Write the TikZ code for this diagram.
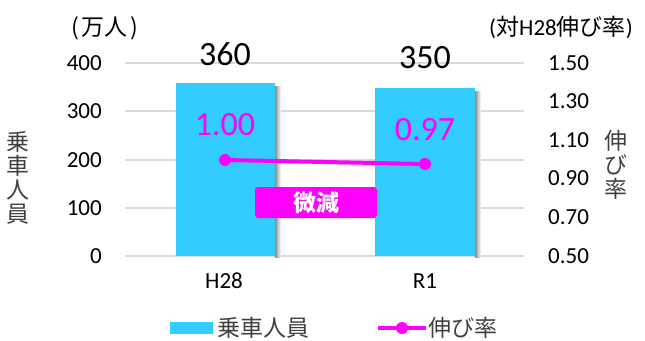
\documentclass[tikz,border=0pt]{standalone}
\usepackage{fontspec}
\setmainfont{Carlito}
\newfontfamily\jpfont{Noto Sans CJK JP}
\usetikzlibrary{positioning}
\definecolor{barblue}{RGB}{51,204,255}
\definecolor{gridgray}{RGB}{217,217,217}
\definecolor{labelgray}{RGB}{64,64,64}
\definecolor{ratepink}{RGB}{255,0,255}

\begin{document}
\begin{tikzpicture}[x=1pt,y=-1pt,
  tick/.style={font=\fontsize{23}{23}\selectfont,text=black,inner sep=0pt},
  jplabel/.style={font=\fontsize{23}{24}\selectfont\jpfont,text=labelgray,inner sep=0pt},
  bigval/.style={font=\fontsize{34}{34}\selectfont,inner sep=0pt,anchor=base},
  ratedot/.style={circle,fill=ratepink,inner sep=0pt,minimum size=12pt}]
\useasboundingbox (0,0) rectangle (645,340);

% grid
\draw[gridgray,line width=1.5pt] (125,63) -- (524,63);
\draw[gridgray,line width=1.5pt] (125,111) -- (524,111);
\draw[gridgray,line width=1.5pt] (125,160) -- (524,160);
\draw[gridgray,line width=1.5pt] (125,208) -- (524,208);
\draw[gridgray,line width=1.5pt] (125,256) -- (524,256);

% left axis
\node[tick,anchor=base east] (l400) at (102,70) {400};
\node[tick,anchor=base east] (l300) at (102,118) {300};
\node[tick,anchor=base east] (l200) at (102,167) {200};
\node[tick,anchor=base east] (l100) at (102,215) {100};
\node[tick,anchor=base east] (l0) at (102,263) {0};
\node[jplabel,text=black] (unit) at (105,28) {(\hspace{3pt}万人\hspace{3pt})};
\node[jplabel,align=center] (ylabel) at (18,178) {乗\\車\\人\\員};

% right axis
\node[tick,anchor=base west] (r150) at (548,70) {1.50};
\node[tick,anchor=base west] (r130) at (548,108.6) {1.30};
\node[tick,anchor=base west] (r110) at (548,147.2) {1.10};
\node[tick,anchor=base west] (r090) at (548,185.8) {0.90};
\node[tick,anchor=base west] (r070) at (548,224.4) {0.70};
\node[tick,anchor=base west] (r050) at (548,263) {0.50};
\node[tick] (rateunit) at (561,27) {({\jpfont 対}H28{\jpfont 伸び率})};
\node[jplabel,align=center] (y2label) at (616,164.5) {伸\\び\\率};

% bars
\shade[left color=black!45,right color=white] (275,86) rectangle (281,257);
\shade[left color=black!45,right color=white] (475,91) rectangle (481,257);
\fill[barblue] (176,83) rectangle (275,256);
\fill[barblue] (375,88) rectangle (475,256);
\node[bigval] (v1) at (225,65) {360};
\node[bigval] (v2) at (425,68) {350};

% rate line
\node[bigval,text=ratepink] (t1) at (225,135) {1.00};
\node[bigval,text=ratepink] (t2) at (425,140) {0.97};
\node[ratedot] (p1) at (225,160) {};
\node[ratedot] (p2) at (425,164) {};
\draw[ratepink,line width=4pt] (p1) -- (p2);

\node[fill=ratepink,rounded corners=3pt,minimum width=122pt,minimum height=31pt,inner sep=0pt,
  text=white,font=\fontsize{23}{23}\selectfont\jpfont\bfseries] (gen) at (316,202.5) {微減};

% categories
\node[tick,anchor=base] (c1) at (224,288) {H28};
\node[tick,anchor=base] (c2) at (425,288) {R1};

% legend
\fill[barblue] (170,322) rectangle (213,334);
\node[jplabel,anchor=west] (leg1) at (217,328) {乗車人員};
\coordinate (la) at (378,328);
\coordinate (lb) at (426,328);
\draw[ratepink,line width=4pt] (la) -- (lb);
\node[ratedot] (ld) at (402,328) {};
\node[jplabel,anchor=west] (leg2) at (428,328) {伸び率};

\end{tikzpicture}
\end{document}
